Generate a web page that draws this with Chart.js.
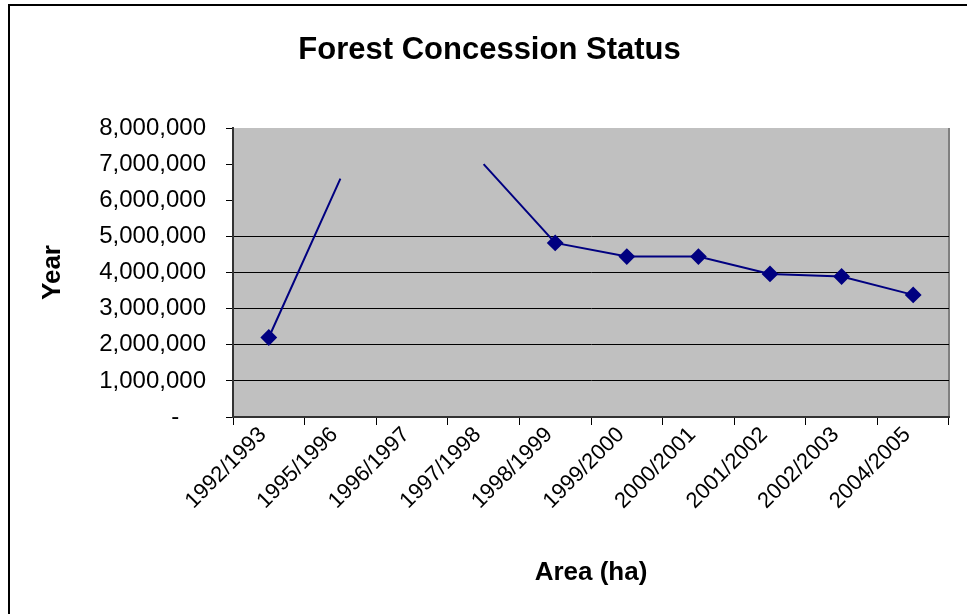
<!DOCTYPE html>
<html>
<head>
<meta charset="utf-8">
<script src="https://cdn.jsdelivr.net/npm/chart.js@4.4.1/dist/chart.umd.min.js"></script>
<style>
  html, body { margin: 0; padding: 0; background: #fff; }
  #wrap { position: relative; width: 967px; height: 614px; }
  #frame { position: absolute; left: 8px; top: 4px; width: 980px; height: 640px;
           border-left: 2px solid #000; border-top: 2px solid #000; pointer-events: none; }
</style>
</head>
<body>
<div id="wrap">
  <canvas id="c" width="967" height="614"></canvas>
  <div id="frame"></div>
</div>
<script>
const categories = ['1992/1993','1995/1996','1996/1997','1997/1998','1998/1999','1999/2000','2000/2001','2001/2002','2002/2003','2004/2005'];
const areaValues = [2200000, 6600000, null, 7000000, 4820000, 4440000, 4440000, 3960000, 3890000, 3380000];
const markerShown = [true, false, false, false, true, true, true, true, true, true];
const chartTitle = 'Forest Concession Status';
const xTitle = 'Area (ha)';
const yTitle = 'Year';

const FONT = 'Liberation Sans, Arial, sans-serif';

const plotBg = {
  id: 'plotBg',
  beforeDraw(chart) {
    const {ctx, chartArea: a} = chart;
    ctx.save();
    ctx.fillStyle = '#c0c0c0';
    ctx.fillRect(a.left, a.top, a.right - a.left, a.bottom - a.top);
    ctx.strokeStyle = '#808080';
    ctx.lineWidth = 2;
    ctx.beginPath();
    ctx.moveTo(a.right, a.top);
    ctx.lineTo(a.right, a.bottom);
    ctx.stroke();
    ctx.restore();
  }
};

new Chart(document.getElementById('c'), {
  type: 'line',
  data: {
    labels: categories,
    datasets: [{
      data: areaValues,
      borderColor: '#000080',
      backgroundColor: '#000080',
      borderWidth: 2,
      pointStyle: 'rectRot',
      pointRadius: markerShown.map(m => m ? 7 : 0),
      pointHoverRadius: markerShown.map(m => m ? 7 : 0),
      spanGaps: false,
      tension: 0
    }]
  },
  options: {
    responsive: false,
    animation: false,
    layout: { padding: { left: 30, right: 18, top: 0, bottom: 0 } },
    plugins: {
      legend: { display: false },
      tooltip: { enabled: false },
      title: {
        display: true,
        text: chartTitle,
        color: '#000',
        font: { family: FONT, size: 31, weight: 'bold' },
        padding: { top: 32, bottom: 58.8 }
      }
    },
    scales: {
      x: {
        offset: true,
        grid: { display: true, drawOnChartArea: false, drawTicks: true, tickLength: 8, offset: true, color: '#000' },
        border: { display: true, color: '#333', width: 2 },
        ticks: {
          color: '#000',
          font: { family: FONT, size: 22 },
          minRotation: 45, maxRotation: 45, autoSkip: false, padding: -3, labelOffset: -6
        },
        title: {
          display: true, text: xTitle, color: '#000',
          font: { family: FONT, size: 26, weight: 'bold' },
          padding: { top: 0, bottom: 26 }
        },
        afterFit(scale) { scale.height = 197; }
      },
      y: {
        min: 0, max: 8000000,
        ticks: {
          stepSize: 1000000,
          color: '#000',
          font: { family: FONT, size: 24 },
          padding: 20,
          callback: v => v === 0 ? '-\u00a0\u00a0\u00a0\u00a0' : Number(v).toLocaleString('en-US')
        },
        grid: {
          drawTicks: true, tickLength: 7,
          color: c => (c.tick && c.tick.value >= 6000000) ? 'rgba(0,0,0,0)' : '#000',
          tickColor: '#000', lineWidth: 1
        },
        border: { display: true, color: '#333', width: 2 },
        title: {
          display: true, text: yTitle, color: '#000',
          font: { family: FONT, size: 26, weight: 'bold' },
          padding: { top: 7, bottom: 0 }
        },
        afterFit(scale) { scale.width = 203; }
      }
    }
  },
  plugins: [plotBg]
});
</script>
</body>
</html>
